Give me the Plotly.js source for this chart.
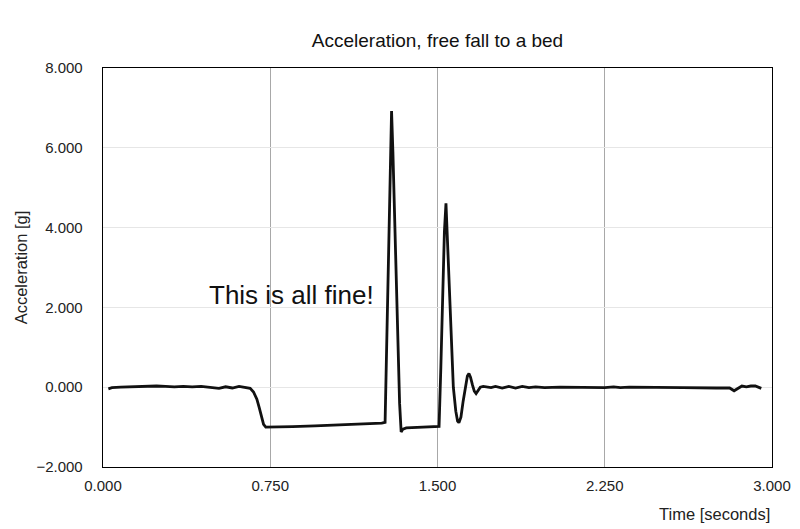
<!DOCTYPE html>
<html>
<head>
<meta charset="utf-8">
<script src="https://cdn.plot.ly/plotly-3.0.1.min.js"></script>
<style>html,body{margin:0;padding:0;background:#fff;}#chart{width:800px;height:529px;}</style>
</head>
<body>
<div id="chart"></div>
<script>
const timeSeconds = [0.024, 0.04, 0.08, 0.12, 0.16, 0.20, 0.24, 0.28, 0.32, 0.36, 0.40, 0.44, 0.48, 0.52, 0.55, 0.58, 0.61, 0.64, 0.66, 0.675, 0.69, 0.70, 0.71, 0.72, 0.73, 0.76, 0.85, 0.95, 1.05, 1.15, 1.25, 1.265, 1.272, 1.28, 1.288, 1.294, 1.30, 1.31, 1.32, 1.33, 1.337, 1.345, 1.36, 1.40, 1.45, 1.50, 1.507, 1.515, 1.523, 1.531, 1.538, 1.545, 1.556, 1.571, 1.582, 1.59, 1.596, 1.605, 1.615, 1.625, 1.634, 1.641, 1.648, 1.657, 1.665, 1.673, 1.682, 1.692, 1.705, 1.72, 1.74, 1.76, 1.79, 1.82, 1.85, 1.88, 1.91, 1.94, 1.98, 2.05, 2.15, 2.25, 2.29, 2.32, 2.36, 2.45, 2.60, 2.75, 2.81, 2.83, 2.845, 2.865, 2.885, 2.905, 2.925, 2.94, 2.952];
const accelerationG = [-0.04, -0.01, 0.00, 0.01, 0.02, 0.02, 0.03, 0.02, 0.01, 0.02, 0.01, 0.02, 0.00, -0.03, 0.01, -0.02, 0.02, 0.00, -0.03, -0.12, -0.30, -0.50, -0.75, -0.93, -1.00, -1.00, -0.99, -0.97, -0.95, -0.93, -0.90, -0.88, 1.0, 3.2, 5.6, 6.92, 5.9, 3.6, 1.4, -0.4, -1.12, -1.05, -1.02, -1.01, -1.00, -0.99, -0.98, 0.5, 2.18, 3.9, 4.61, 3.6, 2.18, 0.0, -0.6, -0.85, -0.89, -0.75, -0.35, 0.05, 0.28, 0.34, 0.25, 0.05, -0.10, -0.16, -0.07, 0.00, 0.02, 0.01, -0.01, 0.02, -0.02, 0.02, -0.02, 0.02, -0.01, 0.01, -0.01, 0.00, -0.01, -0.01, 0.01, -0.01, 0.00, -0.01, -0.01, -0.02, -0.02, -0.09, -0.03, 0.03, 0.01, 0.03, 0.03, 0.00, -0.03];

const xTickValues = [0, 0.75, 1.5, 2.25, 3];
const xTickLabels = ["0.000", "0.750", "1.500", "2.250", "3.000"];
const yTickValues = [-2, 0, 2, 4, 6, 8];
const yTickLabels = ["\u22122.000", "0.000", "2.000", "4.000", "6.000", "8.000"];

const chartTitle = "Acceleration, free fall to a bed";
const xTitle = "Time [seconds]";
const yTitle = "Acceleration [g]";
const noteText = "This is all fine!";

const font = "Liberation Sans, Arial, Helvetica, sans-serif";

const trace = {
  x: timeSeconds,
  y: accelerationG,
  type: "scatter",
  mode: "lines",
  line: {color: "#111", width: 2.8},
  hoverinfo: "skip"
};

const layout = {
  width: 800,
  height: 529,
  paper_bgcolor: "#fff",
  plot_bgcolor: "#fff",
  showlegend: false,
  margin: {l: 103, r: 28, t: 68, b: 62, pad: 0},
  font: {family: font, size: 15, color: "#222"},
  title: {
    text: chartTitle,
    font: {family: font, size: 19, color: "#111"},
    x: 0.5, xref: "paper", xanchor: "center",
    y: 1 - 40 / 529, yref: "container", yanchor: "middle"
  },
  xaxis: {
    range: [0, 3],
    tickvals: xTickValues,
    ticktext: xTickLabels,
    ticks: "outside", ticklen: 5, tickcolor: "rgba(0,0,0,0)",
    showgrid: true, gridcolor: "#a8a8a8", gridwidth: 1,
    zeroline: false,
    showline: true, linecolor: "#000", linewidth: 1.3, mirror: true,
    tickfont: {family: font, size: 15, color: "#222"}
  },
  yaxis: {
    range: [-2, 8],
    tickvals: yTickValues,
    ticktext: yTickLabels,
    ticks: "outside", ticklen: 16, tickcolor: "rgba(0,0,0,0)",
    showgrid: true, gridcolor: "#e6e6e6", gridwidth: 1,
    zeroline: false,
    showline: true, linecolor: "#000", linewidth: 1.3, mirror: true,
    tickfont: {family: font, size: 15, color: "#222"},
    title: {text: yTitle, font: {family: font, size: 16.5, color: "#222"}, standoff: 4}
  },
  annotations: [
    {
      text: xTitle,
      xref: "paper", yref: "paper",
      x: 1, y: -(514 - 467) / 399,
      xanchor: "right", yanchor: "middle",
      showarrow: false,
      font: {family: font, size: 16.5, color: "#222"}
    },
    {
      text: noteText,
      xref: "x", yref: "y",
      x: 0.846, y: 2.3,
      xanchor: "center", yanchor: "middle",
      showarrow: false,
      font: {family: font, size: 26, color: "#111"}
    }
  ]
};

Plotly.newPlot("chart", [trace], layout, {displayModeBar: false, staticPlot: true});
</script>
</body>
</html>
